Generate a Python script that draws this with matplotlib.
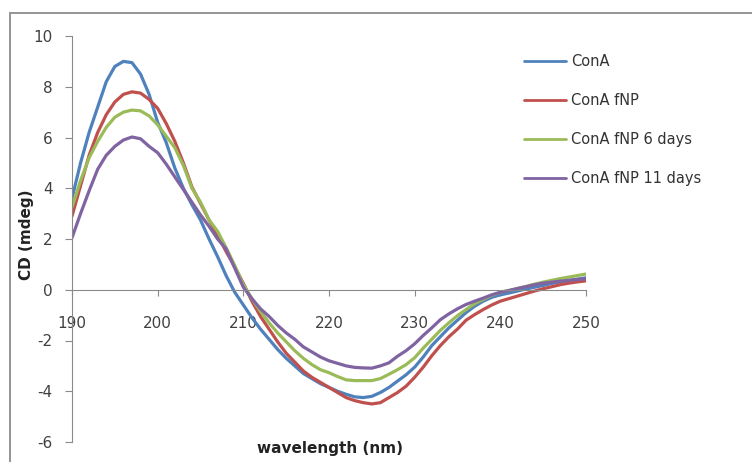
import matplotlib
matplotlib.use('Agg')
import matplotlib.pyplot as plt
from matplotlib.patches import Rectangle
import numpy as np

plt.rcParams['axes.unicode_minus'] = False

# wavelength in nm, 1 nm steps
wavelength = list(range(190, 251))

cona = [3.6, 5.0, 6.2, 7.2, 8.2, 8.8, 9.0, 8.95, 8.5, 7.7,
        6.6, 5.8, 4.8, 4.0, 3.35, 2.75, 2.0, 1.3, 0.55, -0.1,
        -0.6, -1.1, -1.55, -1.95, -2.35, -2.7, -3.0, -3.3, -3.5, -3.7,
        -3.85, -4.0, -4.12, -4.22, -4.25, -4.2, -4.05, -3.85, -3.6, -3.35,
        -3.05, -2.65, -2.2, -1.85, -1.5, -1.2, -0.9, -0.65, -0.45, -0.3,
        -0.2, -0.13, -0.05, 0.03, 0.1, 0.17, 0.25, 0.31, 0.37, 0.42, 0.47]

cona_fnp = [2.9, 4.1, 5.3, 6.2, 6.9, 7.4, 7.7, 7.8, 7.75, 7.5,
            7.15, 6.55, 5.85, 5.0, 4.05, 3.4, 2.75, 2.15, 1.5, 0.9,
            0.25, -0.45, -1.05, -1.55, -2.05, -2.5, -2.85, -3.2, -3.45, -3.65,
            -3.85, -4.05, -4.25, -4.37, -4.45, -4.5, -4.45, -4.25, -4.05, -3.8,
            -3.45, -3.05, -2.6, -2.2, -1.85, -1.55, -1.2, -0.98, -0.78, -0.6,
            -0.45, -0.35, -0.25, -0.15, -0.05, 0.04, 0.12, 0.2, 0.26, 0.31, 0.35]

cona_fnp_6d = [3.25, 4.3, 5.2, 5.85, 6.4, 6.8, 7.0, 7.08, 7.05, 6.85,
               6.5, 6.05, 5.6, 4.9, 4.0, 3.45, 2.75, 2.3, 1.65, 0.95,
               0.2, -0.35, -0.85, -1.3, -1.7, -2.05, -2.4, -2.7, -2.95, -3.15,
               -3.27, -3.42, -3.55, -3.58, -3.58, -3.58, -3.5, -3.33, -3.15, -2.95,
               -2.68, -2.3, -1.95, -1.6, -1.3, -1.02, -0.78, -0.55, -0.38, -0.22,
               -0.1, -0.03, 0.05, 0.13, 0.22, 0.3, 0.37, 0.44, 0.5, 0.56, 0.62]

cona_fnp_11d = [2.05, 3.0, 3.9, 4.75, 5.3, 5.65, 5.9, 6.02, 5.95, 5.65,
                5.4, 4.95, 4.45, 3.95, 3.45, 2.95, 2.5, 2.0, 1.6, 0.85,
                0.1, -0.35, -0.75, -1.05, -1.4, -1.7, -1.95, -2.25, -2.45, -2.65,
                -2.8, -2.9, -3.0, -3.06, -3.08, -3.09, -3.0, -2.88, -2.62, -2.4,
                -2.13, -1.8, -1.5, -1.18, -0.95, -0.75, -0.58, -0.45, -0.33, -0.2,
                -0.1, -0.03, 0.05, 0.12, 0.2, 0.26, 0.3, 0.34, 0.37, 0.4, 0.43]

labels = ['ConA', 'ConA fNP', 'ConA fNP 6 days', 'ConA fNP 11 days']
colors = ['#4F81BD', '#C0504D', '#9BBB59', '#8064A2']

fig = plt.figure(figsize=(7.52, 4.62), dpi=100)
ax = fig.add_axes([72/752, 1-442/462, 514/752, 406/462])

for y, lab, c in zip([cona, cona_fnp, cona_fnp_6d, cona_fnp_11d], labels, colors):
    ax.plot(wavelength, y, color=c, lw=2.3, label=lab, solid_capstyle='round')

ax.set_xlim(190, 250)
ax.set_ylim(-6, 10)
ax.set_xticks(np.arange(190, 251, 10))
ax.set_yticks(np.arange(-6, 11, 2))

# excel style axes: x axis sits on zero
ax.spines['top'].set_visible(False)
ax.spines['right'].set_visible(False)
ax.spines['bottom'].set_position(('data', 0))
ax.spines['bottom'].set_color('#8a8a8a')
ax.spines['left'].set_color('#8a8a8a')
ax.tick_params(axis='x', direction='out', length=4, color='#8a8a8a', pad=15,
               labelsize=11, labelcolor='#404040')
ax.tick_params(axis='y', direction='out', length=5, color='#8a8a8a', pad=9,
               labelsize=11, labelcolor='#404040')

fig.text(330/752, 1-449/462, 'wavelength (nm)', ha='center', va='center',
         fontsize=11, fontweight='bold', color='#222222')
fig.text(27/752, 1-235/462, 'CD (mdeg)', ha='center', va='center', rotation=90,
         fontsize=11, fontweight='bold', color='#222222')

leg = ax.legend(loc='upper left', bbox_to_anchor=(524/752, 1-54/462),
                bbox_transform=fig.transFigure, frameon=False, fontsize=10.5,
                handlelength=2.9, handletextpad=0.3, labelspacing=1.65,
                borderpad=0, borderaxespad=0)
for t in leg.get_texts():
    t.set_color('#333333')
for h in leg.get_lines():
    h.set_linewidth(2.0)

# outer chart border (only left and top show in the crop)
fig.patches.append(Rectangle((10/752, -0.1), 1.2, (462-13)/462 + 0.1,
                             transform=fig.transFigure, fill=False,
                             edgecolor='#8c8c8c', lw=1.3))

fig.savefig('out.png', dpi=100)
